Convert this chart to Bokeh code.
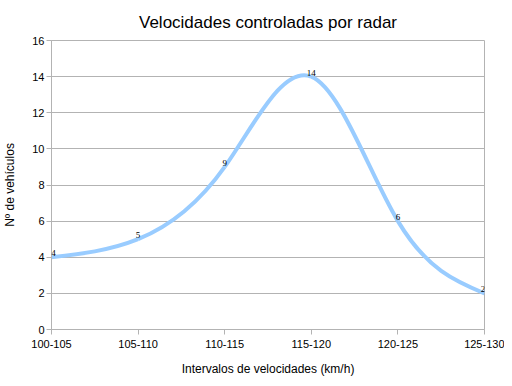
import numpy as np
from bokeh.plotting import figure
from bokeh.models import Range1d, FixedTicker, ColumnDataSource, LabelSet
from bokeh.embed import file_html
from bokeh.resources import INLINE

categories = ["100-105", "105-110", "110-115", "115-120", "120-125", "125-130"]
vehicles = [4, 5, 9, 14, 6, 2]

FONT = "Liberation Sans"

xs = np.arange(len(categories), dtype=float)
ys = np.array(vehicles, dtype=float)

# natural cubic spline (uniform spacing) -> bezier segments
n = len(ys)
A = np.zeros((n, n)); b = np.zeros(n)
A[0, 0] = 1; A[-1, -1] = 1
for i in range(1, n - 1):
    A[i, i - 1] = 1; A[i, i] = 4; A[i, i + 1] = 1
    b[i] = 6 * (ys[i + 1] - 2 * ys[i] + ys[i - 1])
M = np.linalg.solve(A, b)
x0, y0, x1, y1, cx0, cy0, cx1, cy1 = [], [], [], [], [], [], [], []
for i in range(n - 1):
    dy = ys[i + 1] - ys[i]
    d0 = dy - (2 * M[i] + M[i + 1]) / 6
    d1 = dy + (M[i] + 2 * M[i + 1]) / 6
    x0.append(xs[i]); y0.append(ys[i]); x1.append(xs[i + 1]); y1.append(ys[i + 1])
    cx0.append(xs[i] + 1 / 3); cy0.append(ys[i] + d0 / 3)
    cx1.append(xs[i + 1] - 1 / 3); cy1.append(ys[i + 1] - d1 / 3)

p = figure(width=504, height=378, output_backend="svg", toolbar_location=None,
           x_range=Range1d(0, 5), y_range=Range1d(0, 16),
           min_border_left=51, min_border_right=20, min_border_top=40, min_border_bottom=49)
p.frame_width = 433
p.frame_height = 289

p.title.text = "Velocidades controladas por radar"
p.title.align = "center"
p.title.text_font = FONT
p.title.text_font_size = "17px"
p.title.text_font_style = "normal"
p.title.text_color = "#000000"
p.title.standoff = 17

p.outline_line_color = "#b3b3b3"
p.background_fill_color = "white"
p.border_fill_color = "white"

p.xgrid.grid_line_color = None
p.ygrid.grid_line_color = "#b3b3b3"
p.ygrid.grid_line_width = 1

p.xaxis.ticker = FixedTicker(ticks=list(xs))
p.xaxis.major_label_overrides = {i: c for i, c in enumerate(categories)}
p.yaxis.ticker = FixedTicker(ticks=list(range(0, 17, 2)))
p.xaxis.minor_tick_line_color = None
p.yaxis.minor_tick_line_color = None

for ax in (p.xaxis[0], p.yaxis[0]):
    ax.axis_line_color = "#b3b3b3"
    ax.major_tick_line_color = "#b3b3b3"
    ax.major_tick_out = 5
    ax.major_tick_in = 0
    ax.major_label_text_font = FONT
    ax.major_label_text_font_size = "11px"
    ax.major_label_text_color = "#000000"
    ax.axis_label_text_font = FONT
    ax.axis_label_text_font_size = "12px"
    ax.axis_label_text_font_style = "normal"
    ax.axis_label_text_color = "#000000"

p.xaxis.axis_label = "Intervalos de velocidades (km/h)"
p.yaxis.axis_label = "Nº de vehículos"
p.xaxis.major_label_standoff = 5
p.yaxis.major_label_standoff = 2
p.xaxis.axis_label_standoff = 11
p.yaxis.axis_label_standoff = 12

p.bezier(x0=x0, y0=y0, x1=x1, y1=y1, cx0=cx0, cy0=cy0, cx1=cx1, cy1=cy1,
         line_color="#99ccff", line_width=4)

# nudge the end labels inward so they are not cut by the frame edge
nudge = [0.0] * len(vehicles)
nudge[0], nudge[-1] = 2.0, -1.5
src = ColumnDataSource(dict(x=xs, y=ys, t=[str(v) for v in vehicles], dx=nudge))
labels = LabelSet(x="x", y="y", text="t", source=src, text_font=FONT, text_font_size="9px",
                  text_color="#000000", text_align="center", text_baseline="bottom",
                  y_offset=1, x_offset="dx")
p.add_layout(labels)

open("out.html", "w").write(file_html(p, INLINE))
